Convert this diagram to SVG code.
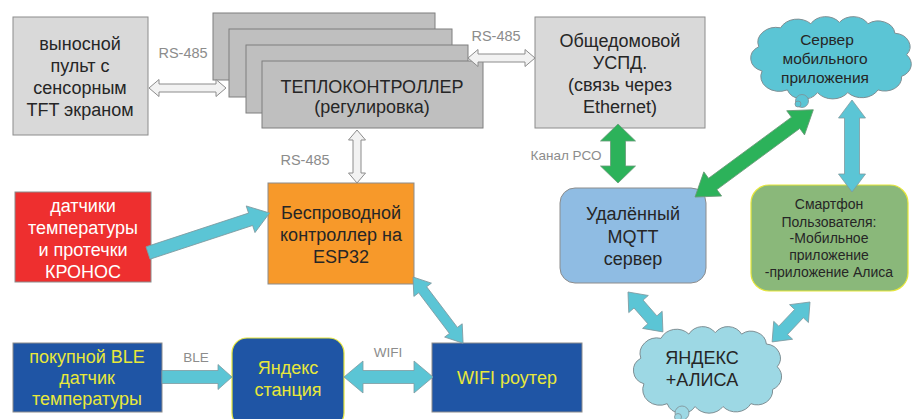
<svg xmlns="http://www.w3.org/2000/svg" xmlns:xlink="http://www.w3.org/1999/xlink" width="920" height="419" viewBox="0 0 920 419">
<style>
text{font-family:"Liberation Sans",Arial,sans-serif;text-anchor:middle}
.t{font-size:18px;fill:#262626}
.w{font-size:18px;fill:#ffffff}
.y{font-size:18px;fill:#e8e83a}
.lbl{font-size:13.5px;fill:#8c8c8c}
.box{stroke:#8c8c8c;stroke-width:1}
.gray{fill:#d9d9d9}
.stack{fill:#bfbfbf;stroke:#7f7f7f;stroke-width:1}
.dblue{fill:#1f55a5;stroke:#8c8c8c}
.cy{fill:#5bc5d5;stroke:#7f9aa0;stroke-width:0.8}
.gr{fill:#2cb25a;stroke:#6a9a78;stroke-width:0.8}
.wh{fill:#f2f2f2;stroke:#8c8c8c;stroke-width:1}
.cloud{stroke:#7f8f94;stroke-width:1}
</style>
<defs>
<path id="cloudp" vector-effect="non-scaling-stroke" d="M9 40 A10 10 0 0 1 7 22 A11 11 0 0 1 20 8 A11 11 0 0 1 38 5 A10 10 0 0 1 55 4 A10 10 0 0 1 72 5 A10 10 0 0 1 88 12 A10 10 0 0 1 95 28 A10 10 0 0 1 92 44 A10 10 0 0 1 78 54 A11 11 0 0 1 60 56 A11 11 0 0 1 42 56 A10 10 0 0 1 24 54 A11 11 0 0 1 9 40 Z"/>
</defs>
<rect width="920" height="419" fill="#ffffff"/>

<g id="remote-panel">
<rect class="box gray" x="13" y="17" width="135" height="118"/>
<text class="t" x="80" y="50">выносной</text>
<text class="t" x="80" y="72">пульт с</text>
<text class="t" x="80" y="94">сенсорным</text>
<text class="t" x="80" y="116">TFT экраном</text>
</g>

<g id="heat-controller">
<rect class="stack" x="213" y="13" width="222" height="67"/>
<rect class="stack" x="229" y="29" width="223" height="68"/>
<rect class="stack" x="246" y="45" width="222" height="68"/>
<rect class="stack" x="262" y="61" width="221" height="67"/>
<text class="t" x="372" y="93">ТЕПЛОКОНТРОЛЛЕР</text>
<text class="t" x="372" y="113">(регулировка)</text>
</g>

<g id="uspd">
<rect class="box gray" x="535" y="17" width="170" height="111"/>
<text class="t" x="620" y="47">Общедомовой</text>
<text class="t" x="620" y="69">УСПД.</text>
<text class="t" x="620" y="91">(связь через</text>
<text class="t" x="620" y="113">Ethernet)</text>
</g>

<g id="mobile-server">
<use xlink:href="#cloudp" href="#cloudp" class="cloud" fill="#5bc5d5" transform="translate(747,17) scale(1.68,1.35)"/>
<circle cx="802" cy="101" r="6.5" fill="#5bc5d5" stroke="#7f8f94" stroke-width="0.8"/>
<circle cx="798" cy="104" r="3" fill="#5bc5d5" stroke="#7f8f94" stroke-width="0.8"/>
<text x="827" y="45" style="font-size:15.5px;fill:#262626">Сервер</text>
<text x="825" y="64" style="font-size:15.5px;fill:#262626">мобильного</text>
<text x="825" y="83" style="font-size:15.5px;fill:#262626">приложения</text>
</g>

<g id="kronos">
<rect x="15" y="192" width="136" height="90" fill="#ee2f2f" stroke="#8c8c8c"/>
<text class="w" x="83" y="212">датчики</text>
<text class="w" x="83" y="234">температуры</text>
<text class="w" x="83" y="256">и протечки</text>
<text class="w" x="83" y="278">КРОНОС</text>
</g>

<g id="esp32">
<rect x="268" y="183" width="146" height="101" fill="#f7992a" stroke="#8c8c8c"/>
<text class="t" x="341" y="219">Беспроводной</text>
<text class="t" x="341" y="241">контроллер на</text>
<text class="t" x="341" y="263">ESP32</text>
</g>

<g id="mqtt">
<rect x="560" y="188" width="146" height="95" rx="15" fill="#8fbce3" stroke="#8c8c8c"/>
<text class="t" x="633" y="220">Удалённый</text>
<text class="t" x="633" y="243">MQTT</text>
<text class="t" x="633" y="265">сервер</text>
</g>

<g id="smartphone">
<rect x="751" y="185" width="157" height="106" rx="18" fill="#8ab87a" stroke="#e6e63a" stroke-width="1.2"/>
<text x="829" y="209" style="font-size:14px;fill:#262626">Смартфон</text>
<text x="829" y="227" style="font-size:14px;fill:#262626">Пользователя:</text>
<text x="829" y="243" style="font-size:14px;fill:#262626">-Мобильное</text>
<text x="829" y="260" style="font-size:14px;fill:#262626">приложение</text>
<text x="829" y="277" style="font-size:14px;fill:#262626">-приложение Алиса</text>
</g>

<g id="ble-sensor">
<rect class="dblue" x="13" y="343" width="149" height="69"/>
<text class="y" x="87" y="363">покупной BLE</text>
<text class="y" x="87" y="384">датчик</text>
<text class="y" x="87" y="405">температуры</text>
</g>

<g id="yandex-station">
<rect x="232" y="338" width="112" height="90" rx="15" fill="#1f55a5" stroke="#e6e63a" stroke-width="1.2"/>
<text class="y" x="288" y="374">Яндекс</text>
<text class="y" x="288" y="396">станция</text>
</g>

<g id="wifi-router">
<rect class="dblue" x="432" y="343" width="150" height="69"/>
<text class="y" x="507" y="384">WIFI роутер</text>
</g>

<g id="yandex-alice">
<use xlink:href="#cloudp" href="#cloudp" class="cloud" fill="#9dd8e4" transform="translate(630,327) scale(1.55,1.42)"/>
<circle cx="682" cy="413" r="7" fill="#9dd8e4" stroke="#7f8f94" stroke-width="0.8"/>
<circle cx="678" cy="417" r="3.5" fill="#9dd8e4" stroke="#7f8f94" stroke-width="0.8"/>
<text class="t" x="702" y="364">ЯНДЕКС</text>
<text class="t" x="702" y="386">+АЛИСА</text>
</g>

<g id="connectors">
<polygon class="wh" transform="translate(149,88)" points="0,0 10,-8.5 10,-4 67,-4 67,-8.5 77,0 67,8.5 67,4 10,4 10,8.5"/>
<polygon class="wh" transform="translate(468,58)" points="0,0 10,-8.5 10,-4 57,-4 57,-8.5 67,0 57,8.5 57,4 10,4 10,8.5"/>
<polygon class="wh" transform="translate(357,130) rotate(90)" points="0,0 10,-8.5 10,-4 43,-4 43,-8.5 53,0 43,8.5 43,4 10,4 10,8.5"/>
<polygon class="cy" transform="translate(148,253) rotate(-18.2)" points="0,-6.5 108,-6.5 108,-14 128,0 108,14 108,6.5 0,6.5"/>
<polygon class="cy" transform="translate(162,377)" points="0,-6.5 56,-6.5 56,-12.5 70,0 56,12.5 56,6.5 0,6.5"/>
<polygon class="cy" transform="translate(344,377)" points="0,0 19,-16 19,-6.5 70,-6.5 70,-16 89,0 70,16 70,6.5 19,6.5 19,16"/>
<polygon class="cy" transform="translate(413,277) rotate(52.9)" points="0,0 16,-11 16,-5 67,-5 67,-11 83,0 67,11 67,5 16,5 16,11"/>
<polygon class="gr" transform="translate(618,124) rotate(90)" points="0,0 17,-17.5 17,-7.5 42,-7.5 42,-17.5 59,0 42,17.5 42,7.5 17,7.5 17,17.5"/>
<polygon class="gr" transform="translate(695,197) rotate(-36.4)" points="0,0 22,-15 22,-7 125,-7 125,-15 147,0 125,15 125,7 22,7 22,15"/>
<polygon class="cy" transform="translate(852,100) rotate(90)" points="0,0 18,-13.5 18,-7.5 74,-7.5 74,-13.5 92,0 74,13.5 74,7.5 18,7.5 18,13.5"/>
<polygon class="cy" transform="translate(628,292) rotate(48.8)" points="0,0 16,-13 16,-6 37,-6 37,-13 53,0 37,13 37,6 16,6 16,13"/>
<polygon class="cy" transform="translate(810,302) rotate(133.5)" points="0,0 16,-13 16,-6 39,-6 39,-13 55,0 39,13 39,6 16,6 16,13"/>
<text class="lbl" x="183" y="58" style="font-size:14.5px">RS-485</text>
<text class="lbl" x="496" y="41" style="font-size:14.5px">RS-485</text>
<text class="lbl" x="305" y="165" style="font-size:14.5px">RS-485</text>
<text class="lbl" x="566" y="160">Канал РСО</text>
<text class="lbl" x="196" y="362">BLE</text>
<text class="lbl" x="388" y="357">WIFI</text>
</g>
</svg>
